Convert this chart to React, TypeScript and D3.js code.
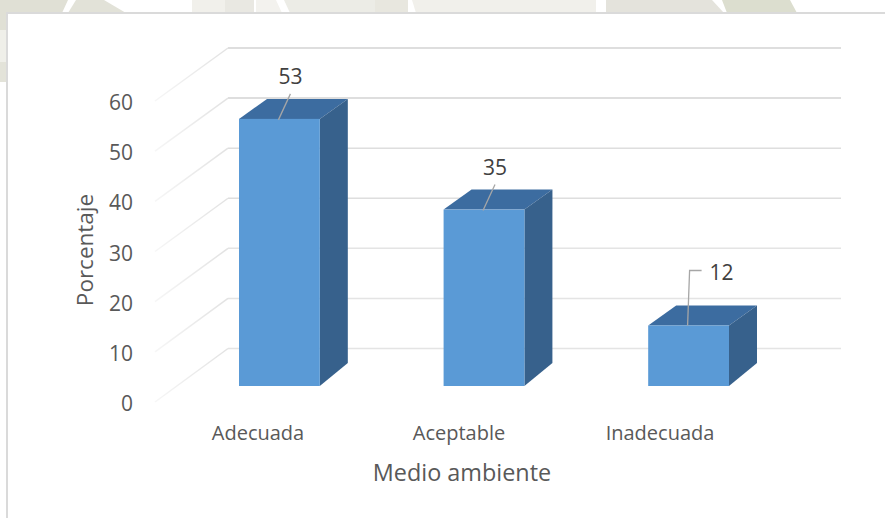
import React from "react";
import * as d3 from "d3";

const categories = ["Adecuada", "Aceptable", "Inadecuada"];
const values = [53, 35, 12];
const tickValues = [0, 10, 20, 30, 40, 50, 60];
const yAxisTitle = "Porcentaje";
const xAxisTitle = "Medio ambiente";

const FONT = "'Open Sans', 'Noto Sans', sans-serif";
const TEXT = "#595959";

// Back wall and front edge of the 3D plot box
const yBack = d3.scaleLinear().domain([0, 60]).range([348.5, 48]);
const yFront = d3.scaleLinear().domain([0, 60]).range([402, 101]);
const yBar = d3.scaleLinear().domain([0, 60]).range([386, 83.6]);
const xBar = d3.scaleBand<string>().domain(categories).range([239, 729]).paddingInner(0.605).paddingOuter(0);
const xLabel = d3.scalePoint<string>().domain(categories).range([258, 660]);

const WALL_LEFT = 228;
const WALL_RIGHT = 841;
const SIDE_LEFT = 155;
const DEPTH_X = 28;
const DEPTH_TOP = 20;
const DEPTH_BOTTOM = 23;

// Pale backdrop shapes that show above and left of the chart frame
const backdrop: [string, string][] = [
  ["M0,0H68L62,13H7V30H0Z", "#e0e0d5"],
  ["M0,30H7V62H0Z", "#efefe9"],
  ["M0,62H7V82H0Z", "#e3e3d9"],
  ["M76,0H104L126,13H68Z", "#e2e2d8"],
  ["M192,0H225V13H192Z", "#f1f0eb"],
  ["M225,0H254V13H225Z", "#e9e8e2"],
  ["M256,0H276L282,13H256Z", "#f3f2ee"],
  ["M284,0H375V13H290Z", "#ecece6"],
  ["M375,0H408V13H375Z", "#e8e7df"],
  ["M412,0H596V13H416Z", "#f1f0eb"],
  ["M606,0H712L724,13H606Z", "#e4e3dc"],
  ["M722,0H790L797,13H727Z", "#dcdecf"],
];

const pts = (p: [number, number][]) => p.map((q) => q.join(",")).join(" ");

export default function App() {
  return (
    <svg
      width={885}
      height={518}
      viewBox="0 0 885 518"
      style={{ position: "absolute", left: 0, top: 0, display: "block", background: "#fff" }}
      fontFamily={FONT}
    >
      <defs>
        <linearGradient id="sideFade" gradientUnits="userSpaceOnUse" x1={WALL_LEFT} y1="0" x2={SIDE_LEFT} y2="0">
          <stop offset="0" stopColor="#e2e2e2" />
          <stop offset="1" stopColor="#f6f6f6" />
        </linearGradient>
      </defs>

      {backdrop.map(([d, fill], i) => (
        <path key={i} d={d} fill={fill} />
      ))}
      <path d="M7,518V13H885" fill="none" stroke="#dadada" strokeWidth={2} />

      {/* Wall gridlines and their slanted continuation on the side wall */}
      {tickValues.map((v) => (
        <g key={v}>
          <line
            x1={WALL_LEFT}
            x2={WALL_RIGHT}
            y1={yBack(v)}
            y2={yBack(v)}
            stroke={v >= 30 ? "#dedede" : "#e4e4e4"}
            strokeWidth={v >= 50 ? 2 : 1.5}
          />
          <polyline
            points={pts([
              [SIDE_LEFT, yFront(v)],
              [WALL_LEFT, yBack(v)],
            ])}
            fill="none"
            stroke="url(#sideFade)"
            strokeWidth={1.5}
          />
          <text x={133} y={yFront(v) + 9} textAnchor="end" fontSize={21} fill={TEXT}>
            {v}
          </text>
        </g>
      ))}

      {/* Extruded bars */}
      {categories.map((c, i) => {
        const x0 = xBar(c)!;
        const x1 = x0 + xBar.bandwidth();
        const top = yBar(values[i]);
        const base = yBar(0);
        return (
          <g key={c}>
            <polygon
              points={pts([
                [x0, top],
                [x0 + DEPTH_X, top - DEPTH_TOP],
                [x1 + DEPTH_X, top - DEPTH_TOP],
                [x1, top],
              ])}
              fill="#3c6ca0"
            />
            <polygon
              points={pts([
                [x1, top],
                [x1 + DEPTH_X, top - DEPTH_TOP],
                [x1 + DEPTH_X, base - DEPTH_BOTTOM],
                [x1, base],
              ])}
              fill="#37618c"
            />
            <rect x={x0} y={top} width={x1 - x0} height={base - top} fill="#5a9ad6" />
          </g>
        );
      })}

      {/* Value labels with leader lines */}
      {categories.map((c, i) => {
        const cx = xBar(c)! + xBar.bandwidth() / 2;
        const top = yBar(values[i]);
        const elbow = values[i] < 20;
        const line: [number, number][] = elbow
          ? [
              [cx - 1, top],
              [cx + 1, top - 55],
              [cx + 13, top - 55],
            ]
          : [
              [cx - 1, top + 1],
              [cx + 11, top - 25],
            ];
        return (
          <g key={c}>
            <polyline points={pts(line)} fill="none" stroke="#a6a6a6" strokeWidth={1.3} />
            <text
              x={elbow ? cx + 21 : cx + 11}
              y={elbow ? top - 46 : top - 35}
              textAnchor={elbow ? "start" : "middle"}
              fontSize={21}
              fill="#404040"
            >
              {values[i]}
            </text>
          </g>
        );
      })}

      {categories.map((c) => (
        <text key={c} x={xLabel(c)} y={439.5} textAnchor="middle" fontSize={20} fill={TEXT}>
          {c}
        </text>
      ))}

      <text x={462} y={481} textAnchor="middle" fontSize={23.4} fill={TEXT}>
        {xAxisTitle}
      </text>
      <text transform="translate(93,250) rotate(-90)" textAnchor="middle" fontSize={22.5} fill={TEXT}>
        {yAxisTitle}
      </text>
    </svg>
  );
}
